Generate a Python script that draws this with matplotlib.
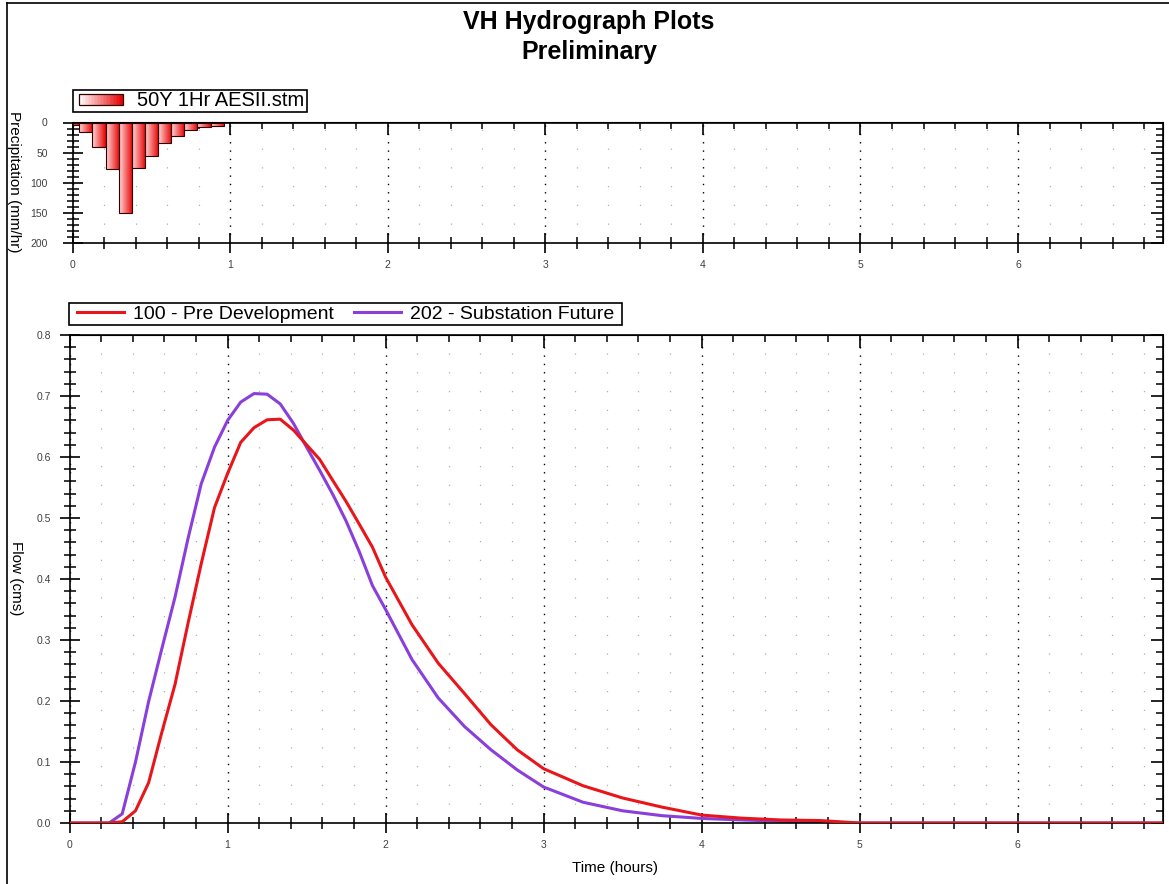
import numpy as np
import matplotlib
matplotlib.use('Agg')
import matplotlib.pyplot as plt
from matplotlib.patches import Rectangle
from matplotlib.lines import Line2D
from matplotlib.legend_handler import HandlerBase
from matplotlib.ticker import MultipleLocator, FormatStrFormatter
from matplotlib.colors import LinearSegmentedColormap

plt.rcParams['font.family'] = ['Liberation Sans', 'DejaVu Sans']

# hyetograph, 5 minute steps (hours, mm/hr)
rain_t = [0.0, 0.0833, 0.1667, 0.25, 0.3333, 0.4167, 0.5, 0.5833, 0.6667, 0.75, 0.8333, 0.9167]
rain_mmhr = [4, 16, 40, 78, 150, 75, 55, 34, 22, 12, 7, 5]

# hydrographs (hours, cms)
flow_t = [0.0, 0.25, 0.333, 0.417, 0.5, 0.583, 0.667, 0.75, 0.833, 0.917, 1.0, 1.083,
          1.167, 1.25, 1.333, 1.417, 1.5, 1.583, 1.667, 1.75, 1.833, 1.917, 2.0, 2.167,
          2.333, 2.5, 2.667, 2.833, 3.0, 3.25, 3.5, 3.75, 4.0, 4.25, 4.5, 4.75, 5.0, 6.92]
pre_dev = [0.0, 0.0, 0.002, 0.02, 0.066, 0.148, 0.227, 0.328, 0.425, 0.517, 0.573, 0.624,
           0.648, 0.661, 0.662, 0.644, 0.62, 0.596, 0.561, 0.527, 0.49, 0.452, 0.403, 0.325,
           0.262, 0.212, 0.161, 0.12, 0.089, 0.061, 0.041, 0.026, 0.013, 0.008, 0.005, 0.004, 0.0, 0.0]
sub_future = [0.0, 0.0, 0.015, 0.10, 0.199, 0.285, 0.37, 0.467, 0.556, 0.616, 0.66, 0.69,
              0.704, 0.703, 0.687, 0.655, 0.616, 0.578, 0.538, 0.495, 0.445, 0.389, 0.35, 0.268,
              0.205, 0.158, 0.12, 0.087, 0.059, 0.034, 0.02, 0.012, 0.0075, 0.005, 0.003, 0.001, 0.0, 0.0]

W, H = 1169, 884
fig = plt.figure(figsize=(W / 100, H / 100), dpi=100)


def px_box(l, t, r, b):
    return [l / W, 1 - b / H, (r - l) / W, (b - t) / H]


def px_frame(l, t, r, b):
    # plain black box drawn behind a frameless legend
    fig.add_artist(Rectangle((l / W, 1 - b / H), (r - l) / W, (b - t) / H, transform=fig.transFigure,
                             fc='white', ec='black', lw=1.2, zorder=4))


bar_cmap = LinearSegmentedColormap.from_list('bar', ['#ffdada', '#e80000'])
leg_cmap = LinearSegmentedColormap.from_list('leg', ['#ffffff', '#e80000'])


class GradPatch:
    pass


class GradHandler(HandlerBase):
    def create_artists(self, legend, orig_handle, xdescent, ydescent, width, height, fontsize, trans):
        n = 30
        cols = leg_cmap(np.linspace(0, 1, n))
        arts = []
        for i in range(n):
            arts.append(Rectangle((-xdescent + i * width / n, -ydescent), width / n * 1.1, height,
                                  fc=cols[i], ec='none', transform=trans))
        arts.append(Rectangle((-xdescent, -ydescent), width, height, fill=False,
                              ec='#300000', lw=0.9, transform=trans))
        return arts


def style_axes(ax, xmaj, xmin, ymaj, ymin, ypad):
    ax.xaxis.set_major_locator(MultipleLocator(xmaj))
    ax.xaxis.set_minor_locator(MultipleLocator(xmin))
    ax.yaxis.set_major_locator(MultipleLocator(ymaj))
    ax.yaxis.set_minor_locator(MultipleLocator(ymin))
    ax.tick_params(which='major', direction='inout', length=14, width=1.2,
                   labelsize=7.5, labelcolor='#404040')
    ax.tick_params(axis='x', which='major', pad=5)
    ax.tick_params(axis='y', which='major', pad=ypad)
    ax.tick_params(which='minor', direction='inout', length=8, width=1.1)
    for s in ax.spines.values():
        s.set_linewidth(1.2)
    ax.grid(which='major', axis='x', color='black', lw=1.0, linestyle=(0, (1, 5)))
    ax.grid(which='minor', axis='x', color='#b0b0b0', lw=0.9, linestyle=(0, (1, 14)))
    ax.set_axisbelow(True)
    sx = ax.secondary_xaxis('top')
    sx.xaxis.set_major_locator(MultipleLocator(xmaj))
    sx.xaxis.set_minor_locator(MultipleLocator(xmin))
    sx.tick_params(which='major', direction='in', length=9, width=1.2, labeltop=False)
    sx.tick_params(which='minor', direction='in', length=5, width=1.1)
    sy = ax.secondary_yaxis('right')
    sy.yaxis.set_major_locator(MultipleLocator(ymaj))
    sy.yaxis.set_minor_locator(MultipleLocator(ymin))
    sy.tick_params(which='major', direction='in', length=9, width=1.2, labelright=False)
    sy.tick_params(which='minor', direction='in', length=5, width=1.1)


# precipitation
ax1 = fig.add_axes(px_box(72.7, 122.5, 1163, 243))
bw = 1 / 12
grad = np.linspace(0, 1, 64).reshape(1, -1)
for t, v in zip(rain_t, rain_mmhr):
    ax1.imshow(grad, cmap=bar_cmap, extent=[t - bw / 2, t + bw / 2, v, 0],
               aspect='auto', interpolation='bilinear', zorder=2)
    ax1.add_patch(Rectangle((t - bw / 2, 0), bw, v, fill=False, ec='#300000', lw=0.8, zorder=3))
ax1.set_xlim(0, 6.92)
ax1.set_ylim(200, 0)
style_axes(ax1, 1, 0.2, 50, 10, 11)

px_frame(73, 90, 307, 112)
leg1 = fig.legend([GradPatch()], ['50Y 1Hr AESII.stm'], handler_map={GradPatch: GradHandler()},
                  loc='center left', bbox_to_anchor=(79 / W, 1 - 101 / H),
                  borderaxespad=0, borderpad=0, fontsize=14.5, frameon=False,
                  handlelength=2.2, handleheight=0.5, handletextpad=0.7)
leg1.set_zorder(5)

# flows
ax2 = fig.add_axes(px_box(69.6, 335, 1163, 823))
ax2.plot(flow_t, pre_dev, color='#e8161b', lw=2.2, label='100 - Pre Development', zorder=3)
ax2.plot(flow_t, sub_future, color='#8a3fdb', lw=2.2, label='202 - Substation Future', zorder=2)
ax2.set_xlim(0, 6.92)
ax2.set_ylim(0, 0.8)
style_axes(ax2, 1, 0.2, 0.1, 0.02, 6.5)
ax2.yaxis.set_major_formatter(FormatStrFormatter('%.1f'))

px_frame(69, 303, 622, 325)
h, l = ax2.get_legend_handles_labels()
leg2 = fig.legend(h, l, loc='center left', bbox_to_anchor=(77 / W, 1 - 314 / H),
                  borderaxespad=0, borderpad=0, ncol=2, fontsize=14, frameon=False,
                  handlelength=2.42, handletextpad=0.46, columnspacing=1.03)
leg2.set_zorder(5)

fig.text(589 / W, 1 - 37 / H, 'VH Hydrograph Plots\nPreliminary', ha='center', va='center',
         fontsize=18, fontweight='bold', linespacing=1.32)
fig.text(14 / W, 1 - 182 / H, 'Precipitation (mm/hr)', rotation=270, ha='center', va='center', fontsize=11)
fig.text(16 / W, 1 - 578 / H, 'Flow (cms)', rotation=270, ha='center', va='center', fontsize=11)
fig.text(615 / W, 1 - 868 / H, 'Time (hours)', ha='center', va='center', fontsize=11)

# outer frame (left and top edges)
fig.add_artist(Line2D([7 / W, 7 / W], [0, 1 - 3 / H], color='black', lw=1.2, transform=fig.transFigure))
fig.add_artist(Line2D([7 / W, 1], [1 - 3 / H, 1 - 3 / H], color='black', lw=1.2, transform=fig.transFigure))

fig.savefig('out.png', dpi=100)
